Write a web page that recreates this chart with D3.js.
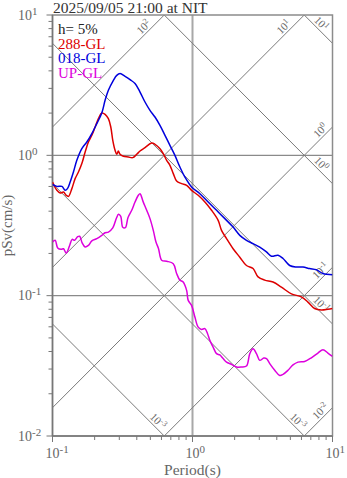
<!DOCTYPE html>
<html><head><meta charset="utf-8">
<script src="https://cdn.jsdelivr.net/npm/d3@7"></script>
<style>
body{margin:0;background:#fff;}
svg{display:block;font-family:"Liberation Serif","Times New Roman",serif;}
</style>
</head><body>
<svg id="chart" width="347" height="478"></svg>
<script>
// ---------------- data ----------------
const titleText = "2025/09/05 21:00 at NIT";
const dampingLabel = "h= 5%";
const seriesNames = ["288-GL", "018-GL", "UP-GL"];
const seriesColors = ["#dd0000", "#0000dd", "#dd00dd"];

const period288 = [0.1,0.1075,0.1135,0.12,0.1252,0.13,0.1375,0.1451,0.1532,0.162,0.1711,0.1805,0.191,0.2016,0.2128,0.2249,0.2375,0.2507,0.2608,0.2695,0.2798,0.2877,0.2954,0.3037,0.3207,0.348,0.3742,0.3996,0.4219,0.4578,0.511,0.5395,0.5856,0.618,0.654,0.69,0.729,0.77,0.836,0.908,0.985,1.098,1.226,1.368,1.525,1.612,1.75,1.95,2.177,2.43,2.708,2.94,3.281,3.76,4.316,5.086,5.993,6.676,7.453,8.32,9.273,10];
const psv288 = [0.645,0.563,0.539,0.548,0.519,0.510,0.579,0.682,0.760,0.873,1.056,1.244,1.389,1.591,1.826,2.002,1.960,1.826,1.591,1.279,1.086,1.017,1.073,1.017,0.984,0.973,0.963,1.017,1.073,1.135,1.224,1.198,1.116,1.028,0.921,0.849,0.741,0.656,0.629,0.611,0.563,0.519,0.465,0.406,0.344,0.292,0.255,0.216,0.188,0.164,0.156,0.136,0.129,0.125,0.115,0.103,0.098,0.090,0.081,0.079,0.080,0.081];

const period018 = [0.1,0.1075,0.1167,0.1232,0.1279,0.1337,0.1411,0.1492,0.162,0.1759,0.191,0.2073,0.2249,0.2375,0.2507,0.2722,0.2877,0.3037,0.3298,0.358,0.3886,0.4219,0.4578,0.497,0.5395,0.5856,0.636,0.69,0.749,0.813,0.883,0.985,1.129,1.294,1.485,1.702,1.95,2.177,2.43,2.708,3.022,3.375,3.663,4.082,4.431,4.946,5.521,6.152,6.868,7.664,8.544,10];
const psv018 = [0.621,0.601,0.601,0.563,0.579,0.645,0.760,0.921,1.116,1.244,1.428,1.682,2.002,2.466,2.906,3.424,3.717,3.822,3.657,3.463,3.245,2.826,2.399,2.093,1.875,1.636,1.389,1.178,1.0,0.825,0.700,0.595,0.533,0.465,0.406,0.354,0.308,0.269,0.248,0.235,0.222,0.205,0.191,0.194,0.184,0.164,0.160,0.160,0.156,0.153,0.144,0.141];

const periodUP = [0.1,0.1045,0.1089,0.1154,0.1198,0.1252,0.1326,0.1382,0.1439,0.1512,0.1563,0.1628,0.1711,0.1805,0.191,0.2073,0.2249,0.2375,0.2507,0.2695,0.2859,0.2963,0.3073,0.3176,0.3314,0.3463,0.3681,0.3886,0.4102,0.4219,0.4431,0.4708,0.497,0.5248,0.5484,0.5714,0.602,0.654,0.729,0.770,0.813,0.858,0.908,0.932,0.985,1.04,1.098,1.161,1.226,1.281,1.33,1.404,1.485,1.568,1.655,1.75,1.899,2.062,2.239,2.43,2.566,2.708,2.863,3.022,3.228,3.375,3.562,3.867,4.198,4.431,4.809,5.222,5.667,6.326,7.063,7.87,8.544,9.273,10];
const psvUP = [0.241,0.248,0.219,0.214,0.216,0.201,0.228,0.252,0.248,0.263,0.265,0.238,0.222,0.228,0.246,0.255,0.269,0.281,0.284,0.304,0.356,0.380,0.367,0.307,0.305,0.361,0.406,0.465,0.519,0.533,0.470,0.406,0.354,0.292,0.241,0.217,0.179,0.176,0.169,0.144,0.129,0.125,0.109,0.0926,0.0853,0.0704,0.0597,0.0575,0.0582,0.0536,0.048,0.043,0.0386,0.0378,0.0356,0.0336,0.0324,0.031,0.031,0.0315,0.0386,0.0418,0.0386,0.0346,0.0359,0.0356,0.0328,0.0294,0.027,0.0275,0.0294,0.0321,0.0336,0.034,0.0361,0.039,0.0412,0.039,0.0369];

const xTickExps = [-1, 0, 1];
const yTickExps = [-2, -1, 0, 1];
const accelLevels = [100, 10, 1, 0.1, 0.01];          // pSa (cm/s^2)
const accelLabelExps = ["2", "1", "0", "-1", "-2"];
const dispLevels = [10, 1, 0.1, 0.01, 0.001];          // Sd (cm)
const dispLabelExps = ["1", "0", "-1", "-3", "-3"];
const xTitle = "Period(s)";
const yTitle = "pSv(cm/s)";

// ---------------- layout ----------------
const svg = d3.select("#chart");
const L = 52.5, R = 332.5, T = 15, B = 436;
const x = d3.scaleLog().domain([0.1, 10]).range([L, R]);
const y = d3.scaleLog().domain([0.01, 10]).range([B, T]);
const axisGray = "#777";
const labelGray = "#666";

svg.append("defs").append("clipPath").attr("id", "clip")
  .append("rect").attr("x", L).attr("y", T).attr("width", R - L).attr("height", B - T);

// grid lines
const grid = svg.append("g");
grid.append("line").attr("x1", x(1)).attr("x2", x(1)).attr("y1", T).attr("y2", B)
  .attr("stroke", "#a8a8a8").attr("stroke-width", 2);
[1, 0.1].forEach(v => {
  grid.append("line").attr("x1", L).attr("x2", R).attr("y1", y(v)).attr("y2", y(v))
    .attr("stroke", "#8a8a8a").attr("stroke-width", 1.3);
});

// tripartite diagonals
const diag = svg.append("g").attr("clip-path", "url(#clip)");
const Tfull = [0.01, 100];
const twoPi = 2 * Math.PI;
accelLevels.forEach(a => {
  diag.append("line")
    .attr("x1", x(Tfull[0])).attr("y1", y(a * Tfull[0] / twoPi))
    .attr("x2", x(Tfull[1])).attr("y2", y(a * Tfull[1] / twoPi))
    .attr("stroke", "#7a7a7a").attr("stroke-width", 1);
});
dispLevels.forEach(d => {
  diag.append("line")
    .attr("x1", x(Tfull[0])).attr("y1", y(twoPi * d / Tfull[0]))
    .attr("x2", x(Tfull[1])).attr("y2", y(twoPi * d / Tfull[1]))
    .attr("stroke", "#7a7a7a").attr("stroke-width", 1);
});

// diagonal labels
const lab = svg.append("g").attr("fill", labelGray).attr("font-size", 11);
function diagLabel(px, py, ang, exp) {
  const t = lab.append("text")
    .attr("transform", `translate(${px},${py}) rotate(${ang})`)
    .attr("text-anchor", "middle").attr("y", -2.5);
  t.append("tspan").text("10");
  t.append("tspan").attr("font-size", 8).attr("dy", -4).text(exp);
}
const s2 = Math.SQRT1_2;
accelLevels.forEach((a, i) => {
  const tEnd = Math.min(10, twoPi * 10 / a);
  const ex = x(tEnd), ey = y(a * tEnd / twoPi);
  const along = tEnd < 10 ? 23 : 11;
  diagLabel(ex - along * s2, ey + along * s2, -45, accelLabelExps[i]);
});
dispLevels.forEach((d, i) => {
  const tEnd = Math.min(10, twoPi * d / 0.01);
  const ex = x(tEnd), ey = y(twoPi * d / tEnd);
  const along = tEnd < 10 ? 15 : 22;
  diagLabel(ex - along * s2, ey - along * s2, 45, dispLabelExps[i]);
});

// frame
svg.append("rect").attr("x", L).attr("y", T).attr("width", R - L).attr("height", B - T)
  .attr("fill", "none").attr("stroke", "#8c8c8c").attr("stroke-width", 1.5);
svg.append("line").attr("x1", L).attr("x2", L).attr("y1", T).attr("y2", B)
  .attr("stroke", axisGray).attr("stroke-width", 1.5);
svg.append("line").attr("x1", L).attr("x2", R).attr("y1", B).attr("y2", B)
  .attr("stroke", axisGray).attr("stroke-width", 1.5);

// ticks
const ticks = svg.append("g").attr("stroke", axisGray).attr("stroke-width", 1);
for (let e = -2; e <= 0; e++) {
  for (let m = 1; m <= 9; m++) {
    const v = m * Math.pow(10, e);
    const len = m === 1 ? 6 : 4;
    ticks.append("line").attr("x1", L - len).attr("x2", L).attr("y1", y(v)).attr("y2", y(v));
  }
}
ticks.append("line").attr("x1", L - 6).attr("x2", L).attr("y1", y(10)).attr("y2", y(10));
for (let e = -1; e <= 0; e++) {
  for (let m = 1; m <= 9; m++) {
    const v = m * Math.pow(10, e);
    const len = m === 1 ? 6 : 4;
    ticks.append("line").attr("y1", B).attr("y2", B + len).attr("x1", x(v)).attr("x2", x(v));
  }
}
ticks.append("line").attr("y1", B).attr("y2", B + 6).attr("x1", x(10)).attr("x2", x(10));

// tick labels
const tl = svg.append("g").attr("fill", labelGray).attr("font-size", 14);
yTickExps.forEach(e => {
  const t = tl.append("text").attr("x", 18).attr("y", y(Math.pow(10, e)) + 4.5);
  t.append("tspan").text("10");
  t.append("tspan").attr("font-size", 11).attr("dy", -5).text(e < 0 ? "-" + (-e) : e);
});
xTickExps.forEach(e => {
  const t = tl.append("text").attr("x", x(Math.pow(10, e)) - 7).attr("y", 457.5);
  t.append("tspan").text("10");
  t.append("tspan").attr("font-size", 11).attr("dy", -5).text(e < 0 ? "-" + (-e) : e);
});

// axis titles
svg.append("text").attr("x", (L + R) / 2).attr("y", 475).attr("text-anchor", "middle")
  .attr("fill", labelGray).attr("font-size", 15.5).text(xTitle);
svg.append("text").attr("transform", `translate(12,${(T + B) / 2}) rotate(-90)`)
  .attr("text-anchor", "middle").attr("fill", labelGray).attr("font-size", 15).text(yTitle);

// title
svg.append("text").attr("x", 53).attr("y", 12.5).attr("fill", "#333").attr("font-size", 15.5).text(titleText);

// series
const line = d3.line().x(d => x(d[0])).y(d => y(d[1])).curve(d3.curveCatmullRom.alpha(0.5));
const series = [
  { name: seriesNames[0], periods: period288, vals: psv288, color: seriesColors[0] },
  { name: seriesNames[1], periods: period018, vals: psv018, color: seriesColors[1] },
  { name: seriesNames[2], periods: periodUP, vals: psvUP, color: seriesColors[2] }
];
const sg = svg.append("g").attr("clip-path", "url(#clip)");
series.forEach(s => {
  sg.append("path").datum(s.periods.map((p, i) => [p, s.vals[i]]))
    .attr("d", line).attr("fill", "none").attr("stroke", s.color).attr("stroke-width", 1.5);
});

// legend
const lg = svg.append("g").attr("font-size", 15);
lg.append("text").attr("x", 58).attr("y", 33.5).attr("fill", "#222").text(dampingLabel);
series.forEach((s, i) => {
  lg.append("text").attr("x", 58).attr("y", 48.5 + i * 14.7).attr("fill", s.color).text(s.name);
});
</script>
</body></html>
